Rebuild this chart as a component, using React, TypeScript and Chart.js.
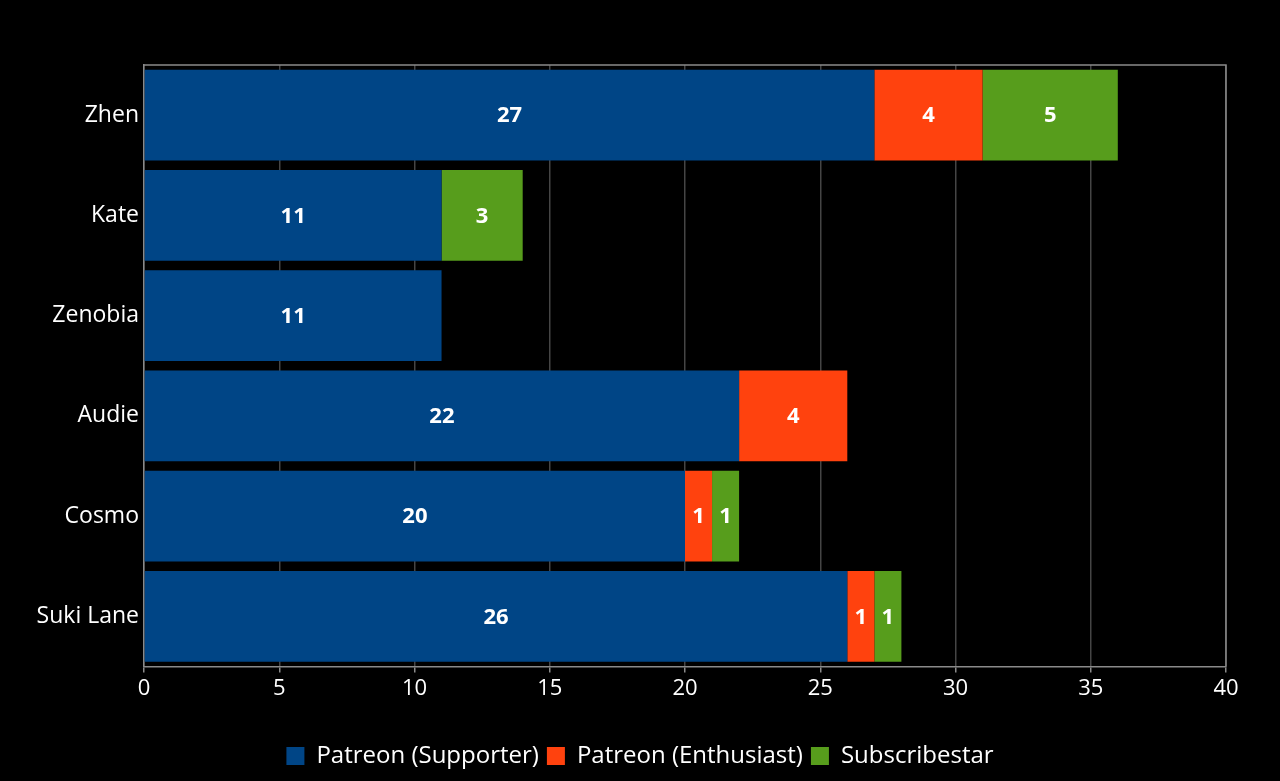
import React, { useEffect, useRef } from "react";
import { Chart, registerables } from "chart.js";

Chart.register(...registerables);

const categories = ["Zhen", "Kate", "Zenobia", "Audie", "Cosmo", "Suki Lane"];
const supporter = [27, 11, 11, 22, 20, 26];
const enthusiast = [4, null, null, 4, 1, 1];
const subscribestar = [5, 3, null, null, 1, 1];
const seriesNames = ["Patreon (Supporter)", "Patreon (Enthusiast)", "Subscribestar"];
const seriesColors = ["#004586", "#ff420e", "#579d1c"];
const xTicks = [0, 5, 10, 15, 20, 25, 30, 35, 40];

const FONT = "'Open Sans', 'DejaVu Sans', sans-serif";

const frameAndLabels = {
  id: "frameAndLabels",
  afterLayout(chart: any) {
    if (chart.legend) {
      chart.legend.left = 0;
      chart.legend.right = chart.width;
    }
  },
  afterDatasetsDraw(chart: any) {
    const ctx = chart.ctx;
    ctx.save();
    ctx.fillStyle = "#ffffff";
    ctx.font = `bold 22px ${FONT}`;
    ctx.textAlign = "center";
    ctx.textBaseline = "middle";
    chart.data.datasets.forEach((ds: any, di: number) => {
      const meta = chart.getDatasetMeta(di);
      meta.data.forEach((el: any, i: number) => {
        const v = ds.data[i];
        if (v === null || v === undefined || v === 0) return;
        const cx = (el.x + el.base) / 2;
        ctx.fillText(String(v), cx, el.y + 1);
      });
    });
    const a = chart.chartArea;
    ctx.strokeStyle = "#8a8a8a";
    ctx.lineWidth = 1.5;
    ctx.beginPath();
    ctx.moveTo(a.left, a.top);
    ctx.lineTo(a.right, a.top);
    ctx.lineTo(a.right, a.bottom);
    ctx.stroke();
    ctx.restore();
  },
};

export default function App() {
  const ref = useRef<HTMLCanvasElement | null>(null);
  useEffect(() => {
    document.body.style.margin = "0";
    document.body.style.background = "#000";
    const chart = new Chart(ref.current as HTMLCanvasElement, {
      type: "bar",
      data: {
        labels: categories,
        datasets: [supporter, enthusiast, subscribestar].map((d, i) => ({
          label: seriesNames[i],
          data: d,
          backgroundColor: seriesColors[i],
          borderWidth: 0,
          barPercentage: 1,
          categoryPercentage: 0.905,
        })),
      },
      options: {
        indexAxis: "y",
        animation: false,
        responsive: false,
        layout: { padding: { top: 65, right: 54, left: 0, bottom: 3 } },
        plugins: {
          tooltip: { enabled: false },
          legend: {
            position: "bottom",
            labels: {
              color: "#ffffff",
              font: { family: FONT, size: 24 },
              boxWidth: 18,
              boxHeight: 18,
              padding: 8,
            },
          },
        },
        scales: {
          x: {
            stacked: true,
            min: 0,
            max: 40,
            afterBuildTicks: (s: any) => {
              s.ticks = xTicks.map((v) => ({ value: v }));
            },
            afterFit: (s: any) => {
              s.height = 69.5;
            },
            ticks: {
              color: "#ffffff",
              font: { family: FONT, size: 22 },
              padding: 3,
            },
            grid: {
              color: "#454545",
              lineWidth: 1.5,
              tickColor: "#8a8a8a",
              tickLength: 6,
            },
            border: { color: "#8a8a8a", width: 1.5 },
          },
          y: {
            stacked: true,
            afterFit: (s: any) => {
              s.width = 144;
            },
            ticks: {
              color: "#ffffff",
              font: { family: FONT, size: 23 },
              padding: 5,
            },
            grid: { display: false, drawTicks: false, tickLength: 0 },
            border: { color: "#8a8a8a", width: 1.5 },
          },
        },
      },
      plugins: [frameAndLabels],
    } as any);
    return () => chart.destroy();
  }, []);
  return (
    <div style={{ position: "absolute", left: 0, top: 0, width: 1280, height: 781, background: "#000" }}>
      <canvas ref={ref} width={1280} height={781} />
    </div>
  );
}
